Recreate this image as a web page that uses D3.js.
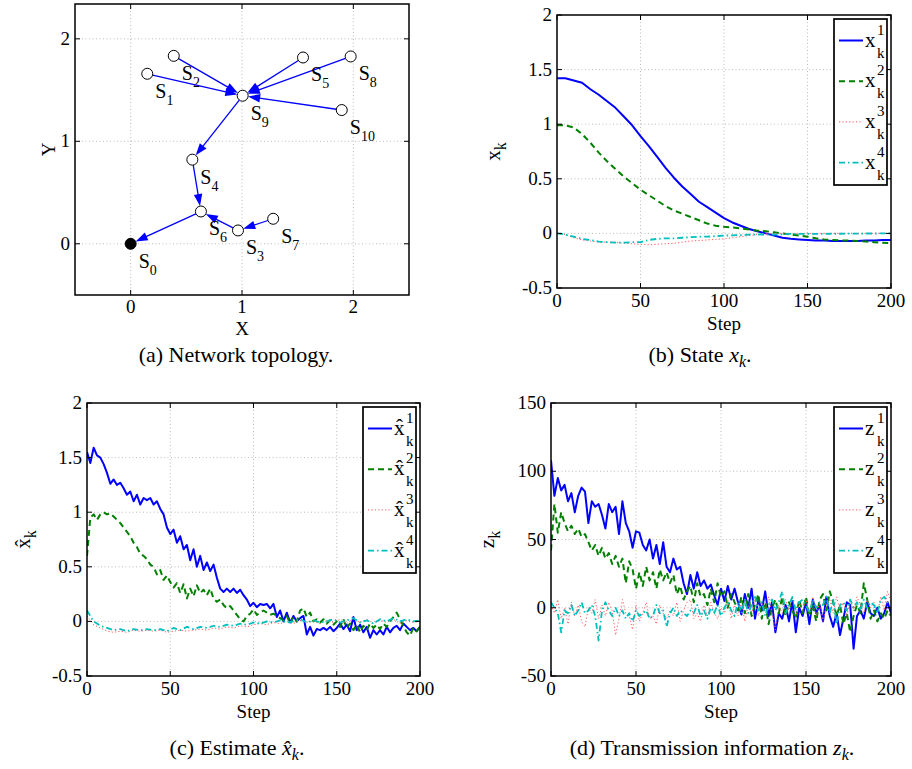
<!DOCTYPE html>
<html><head><meta charset="utf-8">
<script src="https://cdn.jsdelivr.net/npm/d3@7"></script>
<style>body{margin:0;background:#fff}</style>
</head><body>
<script>
// ---------- Panel (a): network topology ----------
const nodeNames = ["0","1","2","3","4","5","6","7","8","9","10"];
const nodeX = [0, 0.149, 0.387, 0.964, 0.554, 1.548, 0.631, 1.280, 1.976, 1.006, 1.896];
const nodeY = [0, 1.659, 1.834, 0.130, 0.821, 1.818, 0.315, 0.244, 1.828, 1.445, 1.305];
const edgeFrom = [1, 2, 5, 8, 10, 9, 4, 3, 7, 6];
const edgeTo   = [9, 9, 9, 9, 9, 4, 6, 6, 3, 0];
const topoTicks = [0, 1, 2];

// ---------- Panel (b): state x_k ----------
const stepsB = [0,5,10,15,20,25,30,35,40,45,50,55,60,65,70,75,80,85,90,95,100,105,110,115,120,125,130,135,140,145,150,155,160,165,170,175,180,185,190,195,200];
const stateX1 = [1.42,1.42,1.40,1.38,1.32,1.27,1.21,1.15,1.07,0.99,0.89,0.80,0.70,0.60,0.51,0.43,0.36,0.29,0.24,0.19,0.14,0.10,0.07,0.04,0.02,0.00,-0.02,-0.04,-0.05,-0.055,-0.06,-0.065,-0.065,-0.07,-0.07,-0.07,-0.07,-0.065,-0.065,-0.06,-0.06];
const stateX2 = [0.99,0.99,0.97,0.91,0.83,0.74,0.66,0.59,0.52,0.46,0.40,0.35,0.30,0.25,0.21,0.18,0.15,0.12,0.09,0.07,0.06,0.055,0.045,0.035,0.025,0.02,0.01,0.0,-0.01,-0.02,-0.03,-0.045,-0.055,-0.06,-0.065,-0.065,-0.07,-0.075,-0.08,-0.085,-0.09];
const stateX3 = [0,-0.01,-0.04,-0.06,-0.07,-0.08,-0.08,-0.08,-0.09,-0.095,-0.10,-0.105,-0.10,-0.095,-0.09,-0.08,-0.07,-0.065,-0.06,-0.055,-0.05,-0.04,-0.03,-0.02,-0.01,-0.005,0,0,0,0,0,0,0,0,0,0,0,0,0,0,0];
const stateX4 = [0,-0.01,-0.03,-0.05,-0.06,-0.075,-0.08,-0.085,-0.085,-0.08,-0.08,-0.06,-0.05,-0.045,-0.045,-0.04,-0.035,-0.03,-0.03,-0.025,-0.02,-0.018,-0.015,-0.012,-0.01,-0.01,-0.01,-0.008,-0.005,-0.005,-0.005,-0.005,-0.004,-0.003,-0.003,-0.002,-0.002,-0.001,-0.001,0,0];

// ---------- Panel (c): estimate (steps every 2 for 1,2; every 4 for 3,4) ----------
const estX1 = [1.55,1.45,1.59,1.52,1.50,1.44,1.36,1.26,1.30,1.25,
  1.27,1.22,1.16,1.19,1.10,1.16,1.07,1.13,1.11,1.13,
  1.07,1.10,1.03,0.98,0.86,0.80,0.84,0.72,0.78,0.66,
  0.70,0.56,0.66,0.50,0.60,0.47,0.54,0.46,0.52,0.40,
  0.30,0.27,0.30,0.27,0.30,0.26,0.29,0.24,0.20,0.14,
  0.17,0.13,0.16,0.15,0.16,0.12,0.16,0.04,0.10,0.00,
  0.08,-0.01,0.05,0.00,0.03,0.05,-0.12,-0.05,-0.13,-0.07,
  -0.08,-0.06,-0.08,-0.05,-0.09,-0.06,-0.02,-0.07,-0.03,-0.09,
  0.04,-0.08,-0.03,-0.10,-0.05,-0.15,-0.08,-0.12,-0.08,-0.12,
  -0.05,-0.10,-0.06,-0.04,-0.08,-0.02,-0.05,-0.08,-0.06,-0.09,
  -0.05];
const estX2 = [0.60,0.95,0.98,0.93,0.98,1.00,0.98,0.99,0.96,0.93,
  0.90,0.86,0.82,0.78,0.72,0.68,0.62,0.60,0.57,0.52,
  0.50,0.43,0.47,0.38,0.42,0.36,0.31,0.35,0.26,0.34,
  0.21,0.30,0.23,0.33,0.26,0.29,0.24,0.30,0.21,0.18,
  0.20,0.15,0.12,0.14,0.10,0.06,0.02,0.00,0.05,0.07,
  0.11,0.06,0.08,0.10,0.08,0.06,0.07,0.05,0.03,0.01,
  0.05,-0.02,0.04,0.00,0.10,0.12,0.04,0.08,0.00,0.02,
  -0.01,0.02,-0.02,0.01,-0.03,0.00,-0.05,0.02,-0.06,-0.02,
  -0.08,-0.03,-0.10,-0.04,-0.08,-0.02,-0.06,-0.03,-0.07,-0.02,
  -0.05,0.00,0.04,0.08,0.02,-0.04,-0.10,-0.13,-0.06,-0.09,
  -0.05];
const estX3 = [0.05,-0.03,-0.06,-0.09,-0.10,-0.09,-0.10,-0.08,-0.09,-0.08,
  -0.09,-0.08,-0.10,-0.09,-0.08,-0.09,-0.08,-0.07,-0.08,-0.06,
  -0.07,-0.05,-0.06,-0.04,-0.05,-0.03,-0.02,-0.03,-0.01,-0.02,
  0.00,-0.02,0.01,-0.01,0.00,-0.02,0.01,-0.01,0.02,-0.02,
  0.03,-0.01,0.02,-0.02,0.01,-0.01,0.02,-0.02,0.01,-0.01,
  0.00];
const estX4 = [0.10,0.00,-0.04,-0.06,-0.08,-0.07,-0.09,-0.07,-0.08,-0.07,
  -0.08,-0.07,-0.09,-0.06,-0.08,-0.05,-0.07,-0.05,-0.06,-0.04,
  -0.05,-0.03,-0.04,-0.02,-0.03,-0.01,-0.02,0.00,-0.01,0.01,
  -0.01,0.00,0.02,-0.01,0.01,-0.01,0.00,0.02,-0.01,0.01,
  0.03,-0.01,0.01,-0.02,0.02,0.00,0.03,0.00,0.02,0.00,
  0.01];

// ---------- Panel (d): transmission information (steps every 2) ----------
const transZ1 = [108,82,95,86,90,78,84,70,82,88,
  85,62,78,74,76,68,58,76,70,74,
  54,78,62,56,44,56,55,46,42,50,
  36,46,32,48,30,26,36,28,30,18,
  10,24,14,26,16,20,14,17,9,2,
  14,5,16,6,14,4,-5,10,0,14,
  -8,6,-2,12,-6,4,-18,-4,-8,2,
  -10,5,-18,0,-6,4,-12,6,-4,2,
  -10,8,-6,-14,-4,-20,-8,4,2,-30,
  -6,-2,-8,4,-4,-6,0,-8,-4,4,
  -4];
const transZ2 = [42,76,55,70,62,56,60,54,58,52,
  54,48,42,46,38,44,36,40,32,38,
  30,36,18,34,28,14,26,16,30,20,
  26,14,28,20,26,18,24,10,16,6,
  12,16,4,18,8,10,2,14,4,18,
  8,12,0,10,4,-2,8,-4,10,-6,
  2,10,-8,4,-12,0,6,-4,8,-6,
  4,-2,-8,6,-4,8,-6,2,-10,6,
  10,-2,12,4,-6,2,-12,-4,-18,-6,
  2,-4,18,6,-8,-2,-10,-4,-8,-2,
  -6];
const transZ3 = [2,-4,6,-8,0,-12,4,-6,2,-10,
  -14,0,-4,6,-8,2,-6,4,-2,-20,
  -8,6,-4,-6,-16,2,-10,-4,4,-8,
  -6,-12,2,-4,-8,-2,-6,4,-10,-2,
  4,6,-8,-4,-10,2,-6,4,-4,-8,
  0,-4,6,-8,2,-6,4,-10,2,-4,
  6,-6,4,-2,8,-4,-16,2,-4,6,
  -2,8,-6,4,-2,6,-4,8,-6,4,
  -10,2,6,-4,8,-2,4,-6,6,-2,
  8,2,-4,6,0,4,-4,8,-2,12,
  4];
const transZ4 = [4,0,-4,-18,-2,-4,2,-6,-2,4,
  -4,-2,2,-6,-24,-2,4,-2,-6,0,
  -6,-2,-8,-4,-10,-2,-6,-4,-2,-8,
  -6,2,-4,-2,-14,-4,0,-6,-2,-4,
  -6,-2,-4,2,-6,-2,-8,0,-4,2,
  -6,0,4,-2,-6,4,-4,6,-4,2,
  8,-2,4,-6,2,6,-2,4,12,-4,
  2,8,-2,4,6,2,-4,6,0,4,
  2,8,-4,6,-12,2,4,-2,6,0,
  4,-2,6,0,4,2,-4,6,8,4,
  2];

const stepTicks = [0, 50, 100, 150, 200];
const stateTicks = [-0.5, 0, 0.5, 1, 1.5, 2];
const stateTickLabels = ["-0.5", "0", "0.5", "1", "1.5", "2"];
const transTicks = [-50, 0, 50, 100, 150];
const transTickLabels = ["-50", "0", "50", "100", "150"];
const seriesSup = ["1", "2", "3", "4"];

// ---------- drawing ----------
const FONT = '"Liberation Serif","Times New Roman",serif';
const svg = d3.select("body").append("svg").attr("width", 912).attr("height", 769)
  .style("font-family", FONT);

const styles = [
  {color: "#0000ff", dash: null, width: 2},
  {color: "#008000", dash: "6,4", width: 2},
  {color: "#ff5a5a", dash: "1.2,2.2", width: 1},
  {color: "#00bfbf", dash: "6,3,1.5,3", width: 1.8}
];

function frame(g, x, y, xt, yt, L, R, T, B) {
  xt.forEach(v => { const px = x(v); if (px > L + 1 && px < R - 1)
    g.append("line").attr("x1", px).attr("x2", px).attr("y1", T).attr("y2", B)
     .attr("stroke", "#aaa").attr("stroke-width", 0.8).attr("stroke-dasharray", "1,2.5"); });
  yt.forEach(v => { const py = y(v); if (py > T + 1 && py < B - 1)
    g.append("line").attr("x1", L).attr("x2", R).attr("y1", py).attr("y2", py)
     .attr("stroke", "#aaa").attr("stroke-width", 0.8).attr("stroke-dasharray", "1,2.5"); });
}
function box(g, x, y, xt, yt, xl, yl, L, R, T, B, xoff) {
  g.append("rect").attr("x", L).attr("y", T).attr("width", R - L).attr("height", B - T)
    .attr("fill", "none").attr("stroke", "#000").attr("stroke-width", 1.5);
  const tl = 5;
  xt.forEach((v, i) => {
    const px = x(v);
    g.append("line").attr("x1", px).attr("x2", px).attr("y1", B).attr("y2", B - tl).attr("stroke", "#000");
    g.append("line").attr("x1", px).attr("x2", px).attr("y1", T).attr("y2", T + tl).attr("stroke", "#000");
    g.append("text").attr("x", px).attr("y", B + xoff).attr("text-anchor", "middle")
      .attr("font-size", 19).text(xl[i]);
  });
  yt.forEach((v, i) => {
    const py = y(v);
    g.append("line").attr("x1", L).attr("x2", L + tl).attr("y1", py).attr("y2", py).attr("stroke", "#000");
    g.append("line").attr("x1", R).attr("x2", R - tl).attr("y1", py).attr("y2", py).attr("stroke", "#000");
    g.append("text").attr("x", L - 5).attr("y", py + 6).attr("text-anchor", "end")
      .attr("font-size", 19).text(yl[i]);
  });
}

function caption(cx, cy, parts) {
  const t = svg.append("text").attr("x", cx).attr("y", cy).attr("text-anchor", "middle").attr("font-size", 22);
  parts.forEach(p => {
    const s = t.append("tspan").text(p.t);
    if (p.it) s.attr("font-style", "italic");
    if (p.sub) s.attr("font-size", 16).attr("dy", 5);
    if (p.back) s.attr("dy", -5);
  });
}

// ----- Panel a -----
(function () {
  const L = 75, R = 409, T = 4, B = 295;
  const x = d3.scaleLinear().domain([-0.5, 2.5]).range([L, R]);
  const y = d3.scaleLinear().domain([-0.5, 2.34]).range([B, T]);
  const g = svg.append("g");
  const lab = topoTicks.map(String);
  frame(g, x, y, topoTicks, topoTicks, L, R, T, B);
  const r = 5.5, hl = 12, hw = 8.5;
  edgeFrom.forEach((f, i) => {
    const t = edgeTo[i];
    const x1 = x(nodeX[f]), y1 = y(nodeY[f]), x2 = x(nodeX[t]), y2 = y(nodeY[t]);
    const dx = x2 - x1, dy = y2 - y1, len = Math.hypot(dx, dy), ux = dx / len, uy = dy / len;
    const tx = x2 - ux * r, ty = y2 - uy * r;
    g.append("line").attr("x1", x1 + ux * r).attr("y1", y1 + uy * r)
      .attr("x2", tx - ux * hl * 0.8).attr("y2", ty - uy * hl * 0.8)
      .attr("stroke", "#0000ff").attr("stroke-width", 1.3);
    const bx = tx - ux * hl, by = ty - uy * hl, nx = -uy, ny = ux;
    g.append("polygon").attr("points",
      `${tx},${ty} ${bx + nx * hw / 2},${by + ny * hw / 2} ${bx - nx * hw / 2},${by - ny * hw / 2}`)
      .attr("fill", "#0000ff");
  });
  nodeNames.forEach((n, i) => {
    const px = x(nodeX[i]), py = y(nodeY[i]);
    g.append("circle").attr("cx", px).attr("cy", py).attr("r", r)
      .attr("fill", i === 0 ? "#000" : "#fff").attr("stroke", "#000").attr("stroke-width", 1);
    const t = g.append("text").attr("x", px + 8).attr("y", py + 24).attr("font-size", 20);
    t.append("tspan").text("S");
    t.append("tspan").attr("font-size", 14).attr("dy", 7).text(n);
  });
  box(g, x, y, topoTicks, topoTicks, lab, lab, L, R, T, B, 18);
  g.append("text").attr("x", (L + R) / 2).attr("y", B + 40).attr("text-anchor", "middle").attr("font-size", 19).text("X");
  g.append("text").attr("transform", `translate(${L - 20},${(T + B) / 2}) rotate(-90)`)
    .attr("text-anchor", "middle").attr("font-size", 19).text("Y");
})();

// ----- line panels -----
let clipN = 0;
function linePanel(p) {
  const {L, R, T, B} = p;
  const x = d3.scaleLinear().domain([0, 200]).range([L, R]);
  const y = d3.scaleLinear().domain(p.ydom).range([B, T]);
  const g = svg.append("g");
  frame(g, x, y, stepTicks, p.yticks, L, R, T, B);
  const id = "clip" + (clipN++);
  svg.append("clipPath").attr("id", id).append("rect").attr("x", L).attr("y", T).attr("width", R - L).attr("height", B - T);
  const lg = g.append("g").attr("clip-path", `url(#${id})`);
  p.series.forEach((s, k) => {
    const st = styles[k];
    const pts = s.vals.map((v, i) => [s.steps[i], v]);
    lg.append("path").datum(pts)
      .attr("d", d3.line().x(d => x(d[0])).y(d => y(d[1])))
      .attr("fill", "none").attr("stroke", st.color).attr("stroke-width", st.width)
      .attr("stroke-dasharray", st.dash).attr("stroke-linejoin", "round");
  });
  box(g, x, y, stepTicks, p.yticks, stepTicks.map(String), p.ylabels, L, R, T, B, 19);
  g.append("text").attr("x", (L + R) / 2).attr("y", B + 42).attr("text-anchor", "middle").attr("font-size", 19).text("Step");
  const yl = g.append("text").attr("transform", `translate(${L - 57},${(T + B) / 2}) rotate(-90)`)
    .attr("text-anchor", "middle").attr("font-size", 21);
  yl.append("tspan").text(p.sym);
  yl.append("tspan").attr("font-size", 16).attr("dy", 6).text("k");
  const bx = R - 57, by = T + 4, bw = 53, bh = 166;
  g.append("rect").attr("x", bx).attr("y", by).attr("width", bw).attr("height", bh)
    .attr("fill", "#fff").attr("stroke", "#000").attr("stroke-width", 1.7);
  seriesSup.forEach((sup, k) => {
    const st = styles[k];
    const ly = by + 21.5 + k * 40.7;
    g.append("line").attr("x1", bx + 5).attr("x2", bx + 29).attr("y1", ly).attr("y2", ly)
      .attr("stroke", st.color).attr("stroke-width", st.width).attr("stroke-dasharray", st.dash);
    g.append("text").attr("x", bx + 31).attr("y", ly + 6).attr("font-size", 21).text(p.sym);
    g.append("text").attr("x", bx + 43).attr("y", ly - 6).attr("font-size", 15).text(sup);
    g.append("text").attr("x", bx + 43).attr("y", ly + 17).attr("font-size", 15).text("k");
  });
}

const stepsC2 = d3.range(0, 201, 2);
const stepsC4 = d3.range(0, 201, 4);

linePanel({L: 557, R: 891, T: 15, B: 288, ydom: [-0.5, 2], yticks: stateTicks, ylabels: stateTickLabels, sym: "x",
  series: [{steps: stepsB, vals: stateX1}, {steps: stepsB, vals: stateX2}, {steps: stepsB, vals: stateX3}, {steps: stepsB, vals: stateX4}]});
linePanel({L: 87, R: 420, T: 403, B: 676, ydom: [-0.5, 2], yticks: stateTicks, ylabels: stateTickLabels, sym: "x\u0302",
  series: [{steps: stepsC2, vals: estX1}, {steps: stepsC2, vals: estX2}, {steps: stepsC4, vals: estX3}, {steps: stepsC4, vals: estX4}]});
linePanel({L: 551, R: 891, T: 403, B: 676, ydom: [-50, 150], yticks: transTicks, ylabels: transTickLabels, sym: "z",
  series: [{steps: stepsC2, vals: transZ1}, {steps: stepsC2, vals: transZ2}, {steps: stepsC2, vals: transZ3}, {steps: stepsC2, vals: transZ4}]});

caption(236, 362, [{t: "(a) Network topology."}]);
caption(700, 362, [{t: "(b) State "}, {t: "x", it: true}, {t: "k", it: true, sub: true}, {t: ".", back: true}]);
caption(237, 755, [{t: "(c) Estimate "}, {t: "x\u0302", it: true}, {t: "k", it: true, sub: true}, {t: ".", back: true}]);
caption(712, 755, [{t: "(d) Transmission information "}, {t: "z", it: true}, {t: "k", it: true, sub: true}, {t: ".", back: true}]);
</script>
</body></html>
